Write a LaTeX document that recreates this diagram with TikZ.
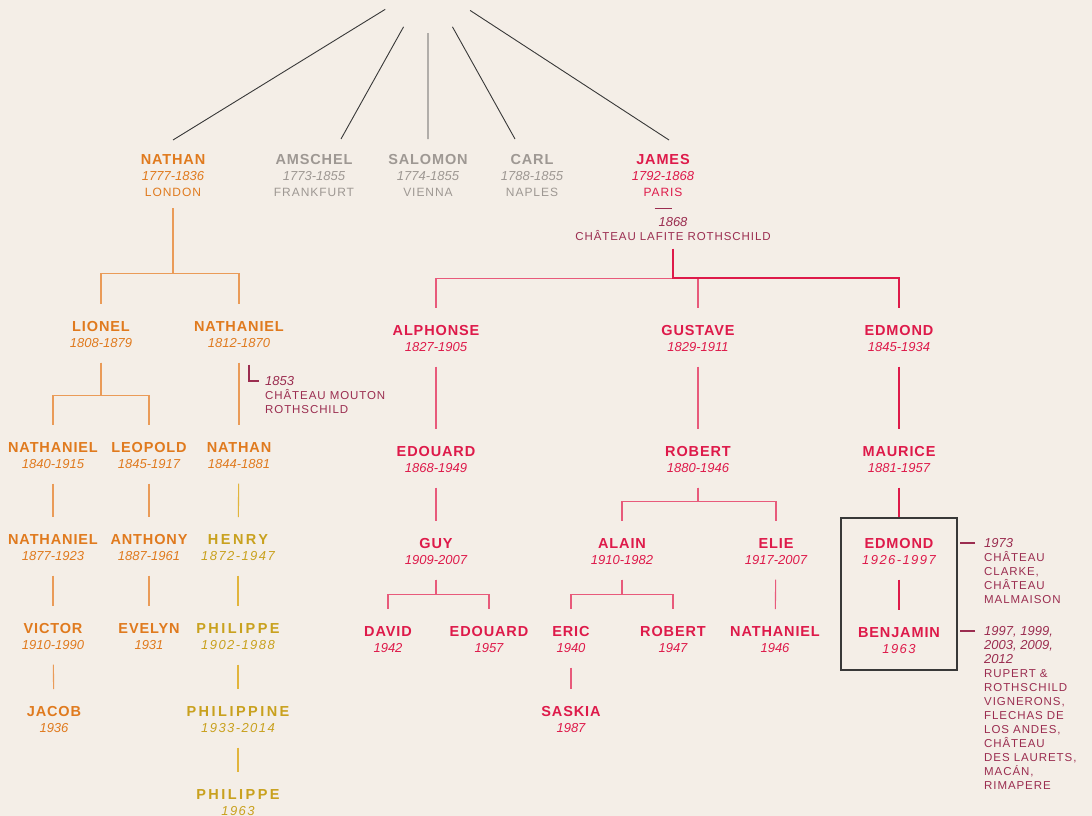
\documentclass[tikz,border=0pt]{standalone}
\usepackage{fontspec}
\setmainfont{Liberation Sans}
\newfontfamily\namefont[LetterSpace=6]{Liberation Sans}
\newfontfamily\widefont[LetterSpace=17]{Liberation Sans}
\newfontfamily\wideyear[LetterSpace=11]{Liberation Sans}
\newfontfamily\capsfont[LetterSpace=8]{Liberation Sans}
\usetikzlibrary{positioning}

\definecolor{paper}{HTML}{F4EEE7}
\definecolor{rorange}{HTML}{E07A1E}
\definecolor{rorangeln}{HTML}{EA9B58}
\definecolor{rgold}{HTML}{C9A11E}
\definecolor{rgoldln}{HTML}{E2B53C}
\definecolor{rred}{HTML}{DE1A4A}
\definecolor{rredln}{HTML}{E85A7B}
\definecolor{rwine}{HTML}{9B2D50}
\definecolor{rgray}{HTML}{9E9893}
\definecolor{rink}{HTML}{383838}

% name over year
\newcommand\who[2]{{\fontsize{14.5}{16}\selectfont\namefont\bfseries #1}\\{\itshape #2}}
\newcommand\widewho[2]{{\fontsize{14.5}{16}\selectfont\widefont\bfseries #1}\\{\wideyear\itshape #2}}
\newcommand\boxwho[2]{{\fontsize{14.5}{16}\selectfont\namefont\bfseries #1}\\{\wideyear\itshape #2}}
\newcommand\town[1]{{\fontsize{12}{16}\selectfont\capsfont #1}}
\newcommand\wcaps[1]{{\fontsize{11.5}{14}\selectfont\capsfont #1}}

\begin{document}
\begin{tikzpicture}[x=1pt, y=-1pt,
  person/.style={align=center, inner sep=0, anchor=north, text=#1,
    font=\fontsize{13}{16}\selectfont},
  wine/.style={align=left, inner sep=0, anchor=north west, text=rwine,
    font=\fontsize{13}{14}\selectfont},
  link/.style={draw=#1, line width=1.1pt, shorten <=15pt, shorten >=17pt},
  heavy/.style={draw=rred, line width=2pt},
  branch/.style={to path={-- ++(0,#1) -| (\tikztotarget)}},
  fan/.style={draw=rink, line width=0.9pt},
  wineline/.style={draw=rwine, line width=1.1pt}]
\path[use as bounding box, fill=paper] (0,0) rectangle (1092,816);

% Define nodes
\path (428,-17) node[circle, minimum size=100pt, inner sep=0] (root) {}
  (173,140) coordinate (nathan-in)
  (341,139) coordinate (amschel-in)
  (428,139) coordinate (salomon-in)
  (515,139) coordinate (carl-in)
  (669,140) coordinate (james-in)
;

% the five brothers
\path
  (173,154) node[person=rorange] (nathan) {\who{NATHAN}{1777-1836}\\\town{LONDON}}
  (314,154) node[person=rgray] (amschel) {\who{AMSCHEL}{1773-1855}\\\town{FRANKFURT}}
  (428,154) node[person=rgray] (salomon) {\who{SALOMON}{1774-1855}\\\town{VIENNA}}
  (532,154) node[person=rgray] (carl) {\who{CARL}{1788-1855}\\\town{NAPLES}}
  (663,154) node[person=rred] (james) {\who{JAMES}{1792-1868}\\\town{PARIS}}
;

% London
\path
  (101,321) node[person=rorange] (lionel) {\who{LIONEL}{1808-1879}}
  (239,321) node[person=rorange] (nathaniel1) {\who{NATHANIEL}{1812-1870}}
  (53,442) node[person=rorange] (nathaniel2) {\who{NATHANIEL}{1840-1915}}
  (149,442) node[person=rorange] (leopold) {\who{LEOPOLD}{1845-1917}}
  (239,442) node[person=rorange] (nathan2) {\who{NATHAN}{1844-1881}}
  (53,534) node[person=rorange] (nathaniel3) {\who{NATHANIEL}{1877-1923}}
  (149,534) node[person=rorange] (anthony) {\who{ANTHONY}{1887-1961}}
  (238,534) node[person=rgold] (henry) {\widewho{HENRY}{1872-1947}}
  (53,623) node[person=rorange] (victor) {\who{VICTOR}{1910-1990}}
  (149,623) node[person=rorange] (evelyn) {\who{EVELYN}{1931}}
  (238,623) node[person=rgold] (philippe1) {\widewho{PHILIPPE}{1902-1988}}
  (54,706) node[person=rorange] (jacob) {\who{JACOB}{1936}}
  (238,706) node[person=rgold] (philippine) {\widewho{PHILIPPINE}{1933-2014}}
  (238,789) node[person=rgold] (philippe2) {\widewho{PHILIPPE}{1963}}
;

% Paris
\path
  (436,325) node[person=rred] (alphonse) {\who{ALPHONSE}{1827-1905}}
  (698,325) node[person=rred] (gustave) {\who{GUSTAVE}{1829-1911}}
  (899,325) node[person=rred] (edmond1) {\who{EDMOND}{1845-1934}}
  (436,446) node[person=rred] (edouard1) {\who{EDOUARD}{1868-1949}}
  (698,446) node[person=rred] (robert1) {\who{ROBERT}{1880-1946}}
  (899,446) node[person=rred] (maurice) {\who{MAURICE}{1881-1957}}
  (436,538) node[person=rred] (guy) {\who{GUY}{1909-2007}}
  (622,538) node[person=rred] (alain) {\who{ALAIN}{1910-1982}}
  (776,538) node[person=rred] (elie) {\who{ELIE}{1917-2007}}
  (899,538) node[person=rred] (edmond2) {\boxwho{EDMOND}{1926-1997}}
  (388,626) node[person=rred] (david) {\who{DAVID}{1942}}
  (489,626) node[person=rred] (edouard2) {\who{EDOUARD}{1957}}
  (571,626) node[person=rred] (eric) {\who{ERIC}{1940}}
  (673,626) node[person=rred] (robert2) {\who{ROBERT}{1947}}
  (775,626) node[person=rred] (nathaniel4) {\who{NATHANIEL}{1946}}
  (899,627) node[person=rred] (benjamin) {\boxwho{BENJAMIN}{1963}}
  (571,706) node[person=rred] (saskia) {\who{SASKIA}{1987}}
  (899,594) node[draw=rink, line width=1.3pt, inner sep=0,
    minimum width=116pt, minimum height=152pt] (box) {}
;

% vineyards
\node[wine, anchor=north, align=center] (lafite) at (673,217.4)
  {{\itshape 1868}\\\wcaps{CHÂTEAU LAFITE ROTHSCHILD}};
\node[wine] (mouton) at (265,376.4)
  {{\itshape 1853}\\\wcaps{CHÂTEAU MOUTON}\\\wcaps{ROTHSCHILD}};
\node[wine] (clarke) at (984,538.4)
  {{\itshape 1973}\\\wcaps{CHÂTEAU}\\\wcaps{CLARKE,}\\\wcaps{CHÂTEAU}\\\wcaps{MALMAISON}};
\node[wine] (laurets) at (984,626.4)
  {{\itshape 1997, 1999,}\\{\itshape 2003, 2009,}\\{\itshape 2012}\\\wcaps{RUPERT \&}\\
   \wcaps{ROTHSCHILD}\\\wcaps{VIGNERONS,}\\\wcaps{FLECHAS DE}\\\wcaps{LOS ANDES,}\\
   \wcaps{CHÂTEAU}\\\wcaps{DES LAURETS,}\\\wcaps{MACÁN,}\\\wcaps{RIMAPERE}};

% fan from the father
\draw[fan] (root) -- (nathan-in) (root) -- (amschel-in) (root) -- (salomon-in)
  (root) -- (carl-in) (root) -- (james-in);

% London lines
\draw[link=rorangeln, shorten <=12pt] (nathan) edge[branch=98] (lionel)
  edge[branch=98] (nathaniel1);
\draw[link=rorangeln] (lionel) edge[branch=61] (nathaniel2)
  edge[branch=61] (leopold);
\draw[link=rorangeln] (nathaniel1) edge (nathan2)
  (nathaniel2) edge (nathaniel3)
  (leopold) edge (anthony)
  (nathaniel3) edge (victor)
  (anthony) edge (evelyn)
  (victor) edge (jacob);
\draw[link=rgoldln] (nathan2) edge (henry)
  (henry) edge (philippe1)
  (philippe1) edge (philippine)
  (philippine) edge (philippe2);

% Paris lines
\draw[link=rredln, shorten <=8pt] (lafite) edge[branch=49] (alphonse)
  edge[branch=49] (gustave)
  edge[branch=49, heavy] (edmond1);
\draw[link=rredln] (alphonse) edge (edouard1)
  (gustave) edge (robert1)
  (edouard1) edge (guy)
  (robert1) edge[branch=42] (alain)
  (robert1) edge[branch=42] (elie)
  (guy) edge[branch=43] (david)
  (guy) edge[branch=43] (edouard2)
  (alain) edge[branch=43] (eric)
  (alain) edge[branch=43] (robert2)
  (elie) edge (nathaniel4)
  (eric) edge (saskia);
\draw[link=rredln, heavy] (edmond1) edge (maurice)
  (maurice) edge[shorten >=0pt] (box)
  (edmond2) edge (benjamin);

% wine marks
\draw[wineline] ([xshift=-8.5pt, yshift=-12pt]james.south) -- ++(17,0);
\draw[wineline] ([xshift=10pt, yshift=-17pt]nathaniel1.south)
  |- ([xshift=-6pt, yshift=-4.6pt]mouton.north west);
\draw[wineline] ([xshift=-9pt, yshift=-4.6pt]clarke.north west) -- ++(-15,0);
\draw[wineline] ([xshift=-9pt, yshift=-4.6pt]laurets.north west) -- ++(-15,0);
\end{tikzpicture}
\end{document}
